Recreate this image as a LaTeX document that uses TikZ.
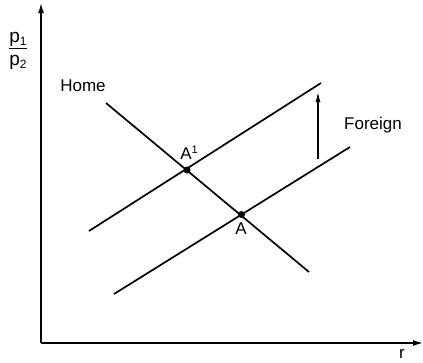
\documentclass[tikz,border=0pt]{standalone}
\usepackage{fontspec}
\setmainfont{Liberation Sans}
\usetikzlibrary{arrows.meta}
\newcommand{\subnum}[1]{\raisebox{-3pt}{\fontsize{12}{12}\selectfont #1}}
\newcommand{\supnum}[1]{\raisebox{6pt}{\fontsize{11}{11}\selectfont #1}}
\tikzset{
  curve/.style={line width=1.7pt},
  axisline/.style={line width=1.5pt,-{Latex[length=10pt,width=6pt]}},
  shiftarrow/.style={line width=1.2pt,-{Latex[length=10pt,width=5pt]}},
  lbl/.style={font=\fontsize{17}{19}\selectfont, inner sep=0pt},
  eqdot/.style={circle,fill=black,inner sep=0pt,minimum size=7pt}
}
\begin{document}
\begin{tikzpicture}[x=1pt,y=-1pt]
\useasboundingbox (0,0) rectangle (423,362);
% axes
\coordinate (O) at (41,343);
\coordinate (Ytip) at (41,3);
\coordinate (Xtip) at (423,343);
\draw[axisline] (O) -- (Ytip);
\draw[axisline] (O) -- (Xtip);
\node[lbl,font=\fontsize{19}{21}\selectfont] (ylab) at (18,50) {\begin{tabular}{@{}c@{}}p\subnum{1}\\[-1pt]\hline\rule{0pt}{17pt}p\subnum{2}\end{tabular}};
\node[lbl] (xlab) at (402,354) {r};
% Home curve
\coordinate (H1) at (106,103);
\coordinate (H2) at (309,272);
\draw[curve] (H1) -- (H2);
\node[lbl] (home) at (83,86) {Home};
% Foreign curves
\coordinate (F1a) at (89,231);
\coordinate (F1b) at (321,83);
\coordinate (F0a) at (114,294);
\coordinate (F0b) at (350,147);
\draw[curve] (F1a) -- (F1b);
\draw[curve] (F0a) -- (F0b);
\node[lbl] (foreign) at (373,125) {Foreign};
% shift arrow
\coordinate (S0) at (318,159);
\coordinate (S1) at (318,92);
\draw[shiftarrow] (S0) -- (S1);
% equilibria
\node[eqdot] (Ap) at (187,170) {};
\node[eqdot] (A) at (241.5,214.5) {};
\node[lbl] (Aplab) at (189,153) {A\supnum{1}};
\node[lbl] (Alab) at (241,229) {A};
\end{tikzpicture}
\end{document}
